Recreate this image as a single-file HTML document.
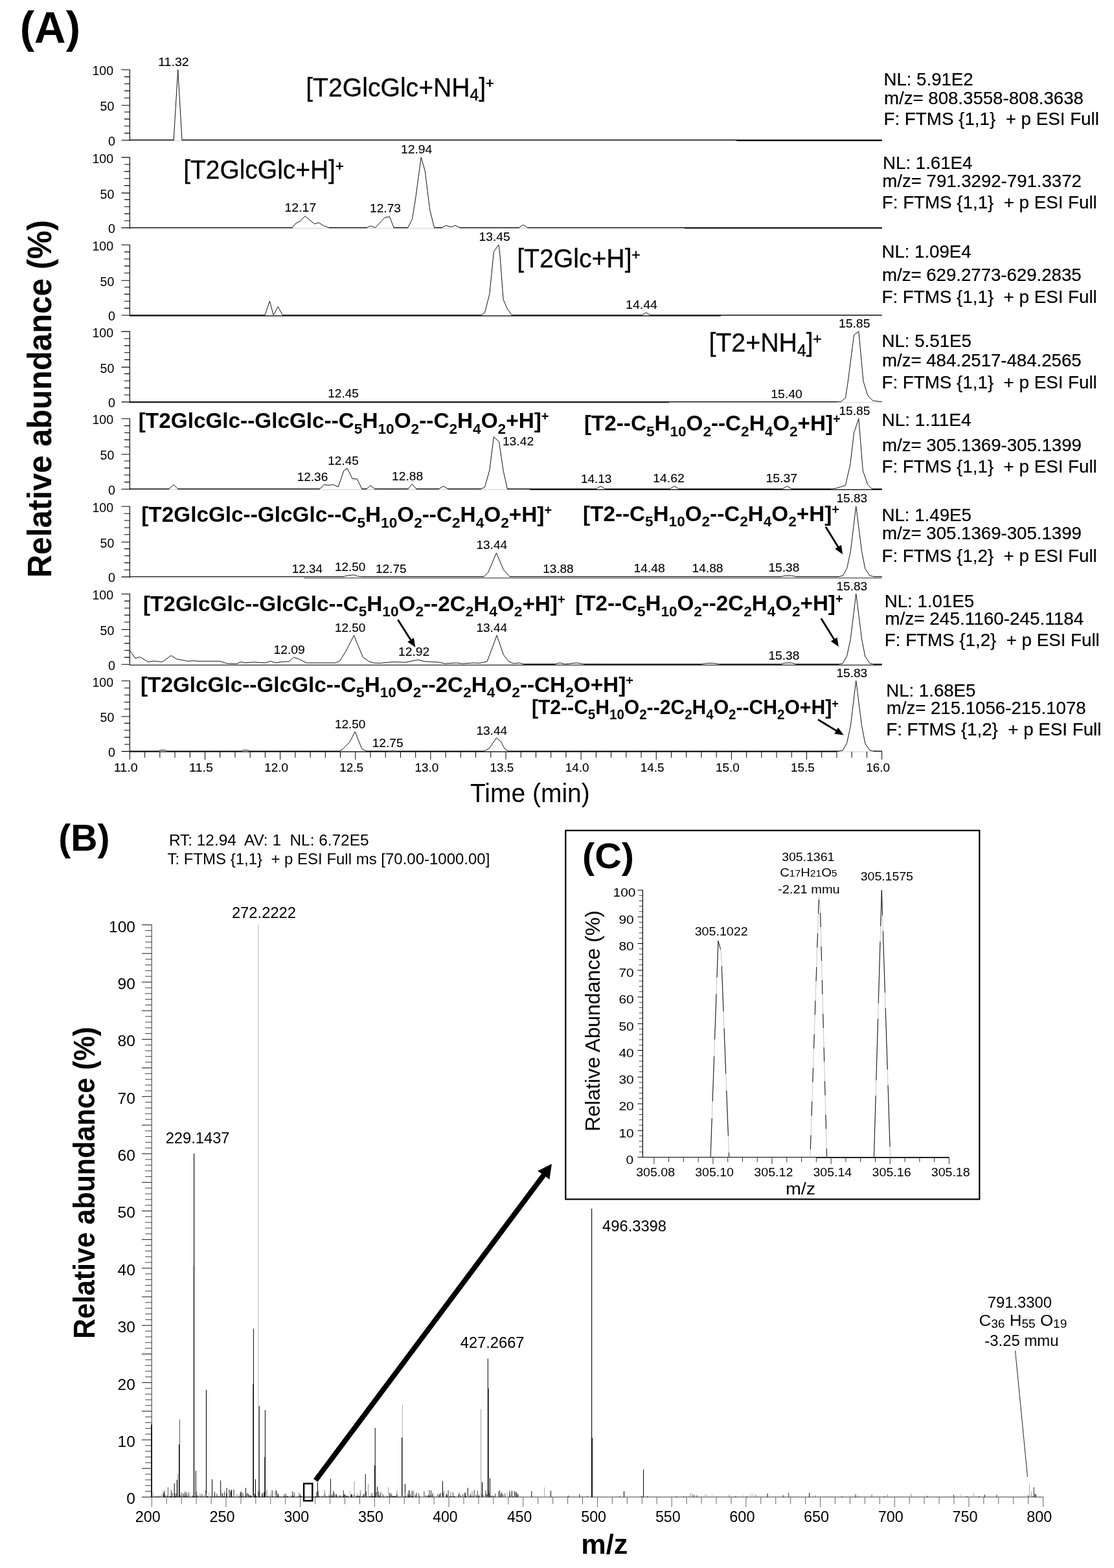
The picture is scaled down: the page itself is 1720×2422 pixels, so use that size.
<!DOCTYPE html>
<html lang="en">
<head>
<meta charset="utf-8">
<title>LC-HRMS chromatograms and spectra</title>
<style>
html,body{margin:0;padding:0;background:#fff;}
body{width:1720px;height:2422px;overflow:hidden;}
svg{display:block;font-family:"Liberation Sans",sans-serif;}
svg text{white-space:pre;}
</style>
</head>
<body>
<svg width="1720" height="2422" viewBox="0 0 1720 2422" xml:space="preserve">
<rect x="0" y="0" width="1720" height="2422" fill="#fff"/>
<text transform="translate(30.73 65.9) scale(0.9888 1)" font-size="68" font-weight="bold">(A)</text>
<text transform="translate(78.8 892.16) rotate(-90) scale(0.9648 1)" font-size="51" font-weight="bold">Relative abundance (%)</text>
<path d="M200.4 107.2L200.4 218.1M187.5 216.5L200.4 216.5M192 205.62L200.4 205.62M192 194.74L200.4 194.74M192 183.86L200.4 183.86M192 172.98L200.4 172.98M187.5 162.7L200.4 162.7M192 151.22L200.4 151.22M192 140.34L200.4 140.34M192 129.46L200.4 129.46M192 118.58L200.4 118.58M187.5 107.7L200.4 107.7M200.4 242.6L200.4 353.5M187.5 351.9L200.4 351.9M192 341.02L200.4 341.02M192 330.14L200.4 330.14M192 319.26L200.4 319.26M192 308.38L200.4 308.38M187.5 298.1L200.4 298.1M192 286.62L200.4 286.62M192 275.74L200.4 275.74M192 264.86L200.4 264.86M192 253.98L200.4 253.98M187.5 243.1L200.4 243.1M200.4 377.7L200.4 488.6M187.5 487L200.4 487M192 476.12L200.4 476.12M192 465.24L200.4 465.24M192 454.36L200.4 454.36M192 443.48L200.4 443.48M187.5 433.2L200.4 433.2M192 421.72L200.4 421.72M192 410.84L200.4 410.84M192 399.96L200.4 399.96M192 389.08L200.4 389.08M187.5 378.2L200.4 378.2M200.4 511.6L200.4 622.5M187.5 620.9L200.4 620.9M192 610.02L200.4 610.02M192 599.14L200.4 599.14M192 588.26L200.4 588.26M192 577.38L200.4 577.38M187.5 567.1L200.4 567.1M192 555.62L200.4 555.62M192 544.74L200.4 544.74M192 533.86L200.4 533.86M192 522.98L200.4 522.98M187.5 512.1L200.4 512.1M200.4 646.2L200.4 757.1M187.5 755.5L200.4 755.5M192 744.62L200.4 744.62M192 733.74L200.4 733.74M192 722.86L200.4 722.86M192 711.98L200.4 711.98M187.5 701.7L200.4 701.7M192 690.22L200.4 690.22M192 679.34L200.4 679.34M192 668.46L200.4 668.46M192 657.58L200.4 657.58M187.5 646.7L200.4 646.7M200.4 781.8L200.4 892.7M187.5 891.1L200.4 891.1M192 880.22L200.4 880.22M192 869.34L200.4 869.34M192 858.46L200.4 858.46M192 847.58L200.4 847.58M187.5 837.3L200.4 837.3M192 825.82L200.4 825.82M192 814.94L200.4 814.94M192 804.06L200.4 804.06M192 793.18L200.4 793.18M187.5 782.3L200.4 782.3M200.4 917L200.4 1027.9M187.5 1026.3L200.4 1026.3M192 1015.42L200.4 1015.42M192 1004.54L200.4 1004.54M192 993.66L200.4 993.66M192 982.78L200.4 982.78M187.5 972.5L200.4 972.5M192 961.02L200.4 961.02M192 950.14L200.4 950.14M192 939.26L200.4 939.26M192 928.38L200.4 928.38M187.5 917.5L200.4 917.5M200.4 1051.3L200.4 1162.2M187.5 1160.6L200.4 1160.6M192 1149.72L200.4 1149.72M192 1138.84L200.4 1138.84M192 1127.96L200.4 1127.96M192 1117.08L200.4 1117.08M187.5 1106.8L200.4 1106.8M192 1095.32L200.4 1095.32M192 1084.44L200.4 1084.44M192 1073.56L200.4 1073.56M192 1062.68L200.4 1062.68M187.5 1051.8L200.4 1051.8" fill="none" stroke="#000" stroke-width="1.1"/>
<text transform="translate(142.4 116.4) scale(1.0000 1)" font-size="19.6">100</text>
<text transform="translate(154.6 171.3) scale(1.0000 1)" font-size="19.6">50</text>
<text transform="translate(166.95 224.8) scale(1.0000 1)" font-size="19.6">0</text>
<line x1="200.4" y1="217.35" x2="1361.6" y2="217.35" stroke="#cdcdcd" stroke-width="1.0"/>
<line x1="1137" y1="217.35" x2="1361.6" y2="217.35" stroke="#000" stroke-width="1.15"/>
<path d="M200.1 216.25L268.51 216.25M280.69 216.25L1361.9 216.25" fill="none" stroke="#0a0a0a" stroke-width="1.2"/>
<polyline points="200.4,216.2 268.2,216.2 274.7,107.5 281.0,216.2 1361.6,216.2" fill="none" stroke="#111" stroke-width="1.0" stroke-linejoin="round"/>
<text transform="translate(142.4 251.8) scale(1.0000 1)" font-size="19.6">100</text>
<text transform="translate(154.6 306.7) scale(1.0000 1)" font-size="19.6">50</text>
<text transform="translate(166.95 360.2) scale(1.0000 1)" font-size="19.6">0</text>
<line x1="200.4" y1="352.75" x2="1361.6" y2="352.75" stroke="#cdcdcd" stroke-width="1.0"/>
<line x1="1057.3" y1="352.75" x2="1361.6" y2="352.75" stroke="#000" stroke-width="1.15"/>
<path d="M200.1 351.65L451.52 351.65M507.82 351.65L566.71 351.65M607.68 351.65L630.11 351.65M670.15 351.65L682.6 351.65M709.87 351.65L801.74 351.65M814.37 351.65L1361.9 351.65" fill="none" stroke="#0a0a0a" stroke-width="1.2"/>
<polyline points="200.4,351.6 451.2,351.6 456.6,345.0 463.1,341.9 471.0,333.9 479.1,340.6 485.6,345.8 492.1,343.9 500.2,349.0 508.1,351.6 566.4,351.6 572.2,349.0 579.6,351.6 594.3,335.8 601.5,334.7 608.0,351.6 629.8,351.6 636.5,338.4 641.7,306.0 650.2,242.8 656.3,264.6 663.7,324.4 670.5,351.6 682.3,351.6 688.8,348.4 696.2,350.6 703.0,348.4 710.2,351.6 801.4,351.6 807.5,347.3 814.7,351.6 1361.6,351.6" fill="none" stroke="#111" stroke-width="1.0" stroke-linejoin="round"/>
<text transform="translate(142.4 386.9) scale(1.0000 1)" font-size="19.6">100</text>
<text transform="translate(154.6 441.8) scale(1.0000 1)" font-size="19.6">50</text>
<text transform="translate(166.95 495.3) scale(1.0000 1)" font-size="19.6">0</text>
<line x1="200.4" y1="487.85" x2="1361.6" y2="487.85" stroke="#cdcdcd" stroke-width="1.0"/>
<line x1="200.4" y1="487.85" x2="1112.6" y2="487.85" stroke="#000" stroke-width="1.15"/>
<path d="M200.1 486.75L409.25 486.75M436.06 486.75L742.98 486.75M789.99 486.75L991.48 486.75M1003.65 486.75L1361.9 486.75" fill="none" stroke="#0a0a0a" stroke-width="1.2"/>
<polyline points="200.4,486.8 409.0,486.8 416.4,465.0 422.2,486.8 429.2,473.7 436.4,486.8 742.7,486.8 748.5,482.9 755.9,454.1 762.4,388.8 769.9,377.9 771.7,391.0 777.1,462.8 783.3,477.0 790.3,486.8 991.2,486.8 997.7,482.9 1004.0,486.8 1361.6,486.8" fill="none" stroke="#111" stroke-width="1.0" stroke-linejoin="round"/>
<text transform="translate(142.4 520.8) scale(1.0000 1)" font-size="19.6">100</text>
<text transform="translate(154.6 575.7) scale(1.0000 1)" font-size="19.6">50</text>
<text transform="translate(166.95 629.2) scale(1.0000 1)" font-size="19.6">0</text>
<line x1="200.4" y1="621.75" x2="1361.6" y2="621.75" stroke="#cdcdcd" stroke-width="1.0"/>
<line x1="200.4" y1="621.75" x2="1032.8" y2="621.75" stroke="#000" stroke-width="1.15"/>
<path d="M200.1 620.65L1292.23 620.65" fill="none" stroke="#0a0a0a" stroke-width="1.2"/>
<polyline points="200.4,620.6 1291.9,620.6 1298.9,620.1 1305.4,614.7 1309.3,589.1 1318.6,517.3 1325.8,511.8 1333.0,589.1 1339.8,610.9 1347.7,619.0 1361.6,620.6" fill="none" stroke="#111" stroke-width="1.0" stroke-linejoin="round"/>
<text transform="translate(142.4 655.4) scale(1.0000 1)" font-size="19.6">100</text>
<text transform="translate(154.6 710.3) scale(1.0000 1)" font-size="19.6">50</text>
<text transform="translate(166.95 763.8) scale(1.0000 1)" font-size="19.6">0</text>
<line x1="200.4" y1="756.35" x2="1361.6" y2="756.35" stroke="#cdcdcd" stroke-width="1.0"/>
<line x1="818" y1="756.35" x2="1361.6" y2="756.35" stroke="#000" stroke-width="1.15"/>
<path d="M200.1 755.25L261.08 755.25M274.42 755.25L494.02 755.25M558.45 755.25L566.48 755.25M578.19 755.25L630.34 755.25M642.52 755.25L677.95 755.25M691.29 755.25L742.98 755.25M783.02 755.25L920.64 755.25M933.98 755.25L1034.44 755.25M1047.78 755.25L1208.62 755.25M1221.96 755.25L1282.94 755.25M1345.97 755.25L1361.9 755.25" fill="none" stroke="#0a0a0a" stroke-width="1.2"/>
<polyline points="200.4,755.2 260.8,755.2 268.2,748.7 274.7,755.2 493.7,755.2 500.5,748.7 508.4,749.3 514.9,748.7 522.3,752.0 530.9,727.0 536.2,723.2 544.1,739.5 551.5,740.0 558.7,755.2 566.2,755.2 572.0,749.8 578.5,755.2 630.0,755.2 636.3,747.6 642.8,755.2 677.7,755.2 684.4,750.9 691.6,755.2 742.7,755.2 748.5,752.5 755.9,725.9 762.4,674.7 770.5,682.4 777.1,727.0 783.3,755.2 920.3,755.2 927.3,750.9 934.3,755.2 1034.1,755.2 1041.1,750.9 1048.1,755.2 1208.3,755.2 1215.3,750.9 1222.3,755.2 1282.6,755.2 1290.8,754.2 1305.4,749.8 1312.8,717.2 1318.6,668.2 1325.8,646.5 1332.3,727.0 1339.8,748.7 1346.3,755.2 1361.6,755.2" fill="none" stroke="#111" stroke-width="1.0" stroke-linejoin="round"/>
<text transform="translate(142.4 791) scale(1.0000 1)" font-size="19.6">100</text>
<text transform="translate(154.6 845.9) scale(1.0000 1)" font-size="19.6">50</text>
<text transform="translate(166.95 899.4) scale(1.0000 1)" font-size="19.6">0</text>
<line x1="200.4" y1="892.8" x2="1361.6" y2="892.8" stroke="#cdcdcd" stroke-width="1.0"/>
<line x1="469" y1="892.8" x2="1361.6" y2="892.8" stroke="#222" stroke-width="0.9"/>
<path d="M200.1 890.65L530.48 890.65M557.75 890.65L747.39 890.65M786.51 890.65L1206.3 890.65M1228.92 890.65L1295.71 890.65M1348.76 890.65L1361.9 890.65" fill="none" stroke="#1a1a1a" stroke-width="0.95"/>
<polyline points="200.4,890.6 530.2,890.6 537.1,889.0 546.4,887.9 552.2,890.1 558.0,890.6 747.1,890.6 753.8,884.1 766.4,854.0 777.3,879.8 786.8,890.6 1206.0,890.6 1213.0,889.3 1222.3,889.3 1229.2,890.6 1295.4,890.6 1301.4,889.3 1307.7,877.6 1313.3,851.5 1321.7,781.9 1330.5,851.5 1335.8,878.7 1343.0,889.3 1349.1,890.6 1361.6,890.6" fill="none" stroke="#111" stroke-width="1.0" stroke-linejoin="round"/>
<text transform="translate(142.4 926.2) scale(1.0000 1)" font-size="19.6">100</text>
<text transform="translate(154.6 981.1) scale(1.0000 1)" font-size="19.6">50</text>
<text transform="translate(166.95 1034.6) scale(1.0000 1)" font-size="19.6">0</text>
<line x1="200.4" y1="1027.2" x2="1361.6" y2="1027.2" stroke="#cdcdcd" stroke-width="1.0"/>
<line x1="200.4" y1="1027.2" x2="1361.6" y2="1027.2" stroke="#000" stroke-width="1.15"/>
<path d="M808.57 1026.05L857.01 1026.05M901.46 1026.05L943.87 1026.05M943.27 1026.05L1083.21 1026.05M1110.48 1026.05L1206.3 1026.05M1228.92 1026.05L1295.71 1026.05M1348.76 1026.05L1361.9 1026.05" fill="none" stroke="#0a0a0a" stroke-width="1.2"/>
<polyline points="200.4,1004.6 209.0,1017.0 215.7,1014.7 229.0,1022.4 237.1,1021.0 250.3,1022.4 264.3,1012.6 272.4,1017.9 286.3,1020.6 291.0,1021.3 297.9,1020.6 304.9,1021.3 338.6,1021.3 351.4,1025.0 365.3,1025.2 372.3,1022.4 378.3,1023.9 391.5,1022.8 409.4,1023.9 417.8,1021.3 425.7,1023.9 433.8,1022.4 446.6,1021.7 453.5,1015.2 461.4,1017.9 473.3,1023.9 518.6,1023.9 524.8,1020.6 534.1,1005.9 546.4,981.4 560.4,1015.2 569.7,1021.7 576.6,1023.9 585.9,1024.4 607.5,1022.4 625.4,1023.1 645.6,1019.2 654.9,1021.7 676.5,1022.8 687.2,1025.0 704.4,1023.9 713.7,1025.0 732.2,1023.9 740.4,1024.4 752.2,1021.7 767.1,981.4 777.3,1011.3 785.6,1021.7 793.3,1025.0 801.2,1023.9 808.9,1025.8 856.7,1025.8 864.6,1023.9 872.5,1025.8 890.2,1023.9 901.8,1025.8 943.6,1026.0 1082.9,1026.0 1092.2,1024.4 1101.5,1024.4 1110.8,1026.0 1206.0,1026.0 1213.0,1023.9 1222.3,1023.9 1229.2,1026.0 1295.4,1026.0 1301.4,1024.7 1307.7,1013.0 1313.3,986.9 1321.7,917.2 1330.5,986.9 1335.8,1014.1 1343.0,1024.7 1349.1,1026.0 1361.6,1026.0" fill="none" stroke="#111" stroke-width="1.0" stroke-linejoin="round"/>
<text transform="translate(142.4 1060.5) scale(1.0000 1)" font-size="19.6">100</text>
<text transform="translate(154.6 1115.4) scale(1.0000 1)" font-size="19.6">50</text>
<text transform="translate(166.95 1168.9) scale(1.0000 1)" font-size="19.6">0</text>
<line x1="200.4" y1="1161.1" x2="1361.6" y2="1161.1" stroke="#cdcdcd" stroke-width="1.0"/>
<line x1="200.4" y1="1161.1" x2="1292" y2="1161.1" stroke="#000" stroke-width="1.15"/>
<path d="M200.1 1160.35L244.83 1160.35M258.16 1160.35L372.56 1160.35M385.89 1160.35L524.21 1160.35M564.95 1160.35L600.15 1160.35M613.49 1160.35L747.63 1160.35M785.34 1160.35L1295.71 1160.35M1348.76 1160.35L1361.9 1160.35" fill="none" stroke="#0a0a0a" stroke-width="1.2"/>
<polyline points="200.4,1160.3 244.5,1160.3 248.0,1158.7 255.0,1158.7 258.5,1160.3 372.3,1160.3 375.7,1158.7 381.5,1158.7 386.2,1160.3 523.9,1160.3 529.3,1157.1 539.9,1146.2 548.1,1130.2 558.7,1156.5 565.2,1160.3 599.9,1160.3 606.8,1159.6 613.8,1160.3 747.3,1160.3 755.5,1156.0 766.4,1139.7 773.1,1145.1 779.6,1157.1 785.6,1160.3 1295.4,1160.3 1301.4,1159.0 1307.7,1147.3 1313.3,1121.2 1321.7,1051.5 1330.5,1121.2 1335.8,1148.4 1343.0,1159.0 1349.1,1160.3 1361.6,1160.3" fill="none" stroke="#111" stroke-width="1.0" stroke-linejoin="round"/>
<text transform="translate(175.87 1192.4) scale(1.0218 1)" font-size="19.2" stroke="#000" stroke-width="0.12">11.0</text>
<text transform="translate(291.98 1192.4) scale(1.0294 1)" font-size="19.2" stroke="#000" stroke-width="0.12">11.5</text>
<text transform="translate(408.17 1192.4) scale(0.9853 1)" font-size="19.2" stroke="#000" stroke-width="0.12">12.0</text>
<text transform="translate(524.29 1192.4) scale(0.9853 1)" font-size="19.2" stroke="#000" stroke-width="0.12">12.5</text>
<text transform="translate(640.41 1192.4) scale(0.9853 1)" font-size="19.2" stroke="#000" stroke-width="0.12">13.0</text>
<text transform="translate(756.53 1192.4) scale(0.9853 1)" font-size="19.2" stroke="#000" stroke-width="0.12">13.5</text>
<text transform="translate(872.65 1192.4) scale(0.9853 1)" font-size="19.2" stroke="#000" stroke-width="0.12">14.0</text>
<text transform="translate(988.77 1192.4) scale(0.9853 1)" font-size="19.2" stroke="#000" stroke-width="0.12">14.5</text>
<text transform="translate(1104.89 1192.4) scale(0.9853 1)" font-size="19.2" stroke="#000" stroke-width="0.12">15.0</text>
<text transform="translate(1221.01 1192.4) scale(0.9853 1)" font-size="19.2" stroke="#000" stroke-width="0.12">15.5</text>
<text transform="translate(1337.13 1192.4) scale(0.9853 1)" font-size="19.2" stroke="#000" stroke-width="0.12">16.0</text>
<path d="M200.4 1161.1L200.4 1173.2M223.62 1161.1L223.62 1170.4M246.85 1161.1L246.85 1170.4M270.07 1161.1L270.07 1170.4M293.3 1161.1L293.3 1170.4M316.52 1161.1L316.52 1173.2M339.74 1161.1L339.74 1170.4M362.97 1161.1L362.97 1170.4M386.19 1161.1L386.19 1170.4M409.42 1161.1L409.42 1170.4M432.64 1161.1L432.64 1173.2M455.86 1161.1L455.86 1170.4M479.09 1161.1L479.09 1170.4M502.31 1161.1L502.31 1170.4M525.54 1161.1L525.54 1170.4M548.76 1161.1L548.76 1173.2M571.98 1161.1L571.98 1170.4M595.21 1161.1L595.21 1170.4M618.43 1161.1L618.43 1170.4M641.66 1161.1L641.66 1170.4M664.88 1161.1L664.88 1173.2M688.1 1161.1L688.1 1170.4M711.33 1161.1L711.33 1170.4M734.55 1161.1L734.55 1170.4M757.78 1161.1L757.78 1170.4M781 1161.1L781 1173.2M804.22 1161.1L804.22 1170.4M827.45 1161.1L827.45 1170.4M850.67 1161.1L850.67 1170.4M873.9 1161.1L873.9 1170.4M897.12 1161.1L897.12 1173.2M920.34 1161.1L920.34 1170.4M943.57 1161.1L943.57 1170.4M966.79 1161.1L966.79 1170.4M990.02 1161.1L990.02 1170.4M1013.24 1161.1L1013.24 1173.2M1036.46 1161.1L1036.46 1170.4M1059.69 1161.1L1059.69 1170.4M1082.91 1161.1L1082.91 1170.4M1106.14 1161.1L1106.14 1170.4M1129.36 1161.1L1129.36 1173.2M1152.58 1161.1L1152.58 1170.4M1175.81 1161.1L1175.81 1170.4M1199.03 1161.1L1199.03 1170.4M1222.26 1161.1L1222.26 1170.4M1245.48 1161.1L1245.48 1173.2M1268.7 1161.1L1268.7 1170.4M1291.93 1161.1L1291.93 1170.4M1315.15 1161.1L1315.15 1170.4M1338.38 1161.1L1338.38 1170.4M1361.6 1161.1L1361.6 1173.2" fill="none" stroke="#000" stroke-width="1.0"/>
<text transform="translate(725.99 1238.7) scale(0.9624 1)" font-size="40.5">Time (min)</text>
<text transform="translate(244.18 101.6) scale(1.0211 1)" font-size="19.2" stroke="#000" stroke-width="0.12">11.32</text>
<text transform="translate(618.9 237) scale(1.0062 1)" font-size="19.2" stroke="#000" stroke-width="0.12">12.94</text>
<text transform="translate(439.48 327.3) scale(1.0151 1)" font-size="19.2" stroke="#000" stroke-width="0.12">12.17</text>
<text transform="translate(571.01 327.8) scale(0.9986 1)" font-size="19.2" stroke="#000" stroke-width="0.12">12.73</text>
<text transform="translate(739.61 371.8) scale(1.0008 1)" font-size="19.2" stroke="#000" stroke-width="0.12">13.45</text>
<text transform="translate(966.08 476.9) scale(1.0171 1)" font-size="19.2" stroke="#000" stroke-width="0.12">14.44</text>
<text transform="translate(1294.89 506.3) scale(1.0117 1)" font-size="19.2" stroke="#000" stroke-width="0.12">15.85</text>
<text transform="translate(506.33 614.4) scale(0.9877 1)" font-size="19.2" stroke="#000" stroke-width="0.12">12.45</text>
<text transform="translate(1190.29 614.6) scale(1.0117 1)" font-size="19.2" stroke="#000" stroke-width="0.12">15.40</text>
<text transform="translate(1295.41 640.8) scale(1.0008 1)" font-size="19.2" stroke="#000" stroke-width="0.12">15.85</text>
<text transform="translate(775.9 688) scale(1.0041 1)" font-size="19.2" stroke="#000" stroke-width="0.12">13.42</text>
<text transform="translate(506.33 717.9) scale(0.9877 1)" font-size="19.2" stroke="#000" stroke-width="0.12">12.45</text>
<text transform="translate(458.73 743) scale(0.9877 1)" font-size="19.2" stroke="#000" stroke-width="0.12">12.36</text>
<text transform="translate(605.11 742.2) scale(1.0008 1)" font-size="19.2" stroke="#000" stroke-width="0.12">12.88</text>
<text transform="translate(896.93 745.7) scale(0.9877 1)" font-size="19.2" stroke="#000" stroke-width="0.12">14.13</text>
<text transform="translate(1008.19 745.4) scale(1.0107 1)" font-size="19.2" stroke="#000" stroke-width="0.12">14.62</text>
<text transform="translate(1182.38 744.9) scale(1.0151 1)" font-size="19.2" stroke="#000" stroke-width="0.12">15.37</text>
<text transform="translate(1291.52 776.1) scale(0.9920 1)" font-size="19.2" stroke="#000" stroke-width="0.12">15.83</text>
<text transform="translate(735.42 848) scale(0.9932 1)" font-size="19.2" stroke="#000" stroke-width="0.12">13.44</text>
<text transform="translate(450.73 884.5) scale(0.9823 1)" font-size="19.2" stroke="#000" stroke-width="0.12">12.34</text>
<text transform="translate(516.93 882.4) scale(0.9877 1)" font-size="19.2" stroke="#000" stroke-width="0.12">12.50</text>
<text transform="translate(580.03 884.5) scale(0.9877 1)" font-size="19.2" stroke="#000" stroke-width="0.12">12.75</text>
<text transform="translate(838.13 884.5) scale(0.9877 1)" font-size="19.2" stroke="#000" stroke-width="0.12">13.88</text>
<text transform="translate(978.5 884.2) scale(1.0051 1)" font-size="19.2" stroke="#000" stroke-width="0.12">14.48</text>
<text transform="translate(1068.51 884.2) scale(1.0008 1)" font-size="19.2" stroke="#000" stroke-width="0.12">14.88</text>
<text transform="translate(1186.41 883.2) scale(0.9986 1)" font-size="19.2" stroke="#000" stroke-width="0.12">15.38</text>
<text transform="translate(1291.52 911.5) scale(0.9920 1)" font-size="19.2" stroke="#000" stroke-width="0.12">15.83</text>
<text transform="translate(516.93 975.8) scale(0.9877 1)" font-size="19.2" stroke="#000" stroke-width="0.12">12.50</text>
<text transform="translate(735.42 975.8) scale(0.9932 1)" font-size="19.2" stroke="#000" stroke-width="0.12">13.44</text>
<text transform="translate(422.39 1010) scale(1.0095 1)" font-size="19.2" stroke="#000" stroke-width="0.12">12.09</text>
<text transform="translate(614.9 1013.4) scale(1.0063 1)" font-size="19.2" stroke="#000" stroke-width="0.12">12.92</text>
<text transform="translate(1186.41 1019.2) scale(0.9986 1)" font-size="19.2" stroke="#000" stroke-width="0.12">15.38</text>
<text transform="translate(1291.52 1046) scale(0.9920 1)" font-size="19.2" stroke="#000" stroke-width="0.12">15.83</text>
<text transform="translate(516.93 1125.3) scale(0.9877 1)" font-size="19.2" stroke="#000" stroke-width="0.12">12.50</text>
<text transform="translate(735.42 1134.5) scale(0.9932 1)" font-size="19.2" stroke="#000" stroke-width="0.12">13.44</text>
<text transform="translate(574.71 1154.4) scale(0.9986 1)" font-size="19.2" stroke="#000" stroke-width="0.12">12.75</text>
<text transform="translate(472.25 148.5) scale(0.9663 1)" font-size="40.5" stroke="#000" stroke-width="0.28">[T2GlcGlc+NH<tspan dy="6.48" font-size="25.52" stroke="#000" stroke-width="0.5">4</tspan><tspan dy="-6.48">]</tspan><tspan dy="-12.15" font-size="22.68" stroke="#000" stroke-width="0.7">+</tspan></text>
<text transform="translate(283.16 275.9) scale(0.9620 1)" font-size="40.5" stroke="#000" stroke-width="0.28">[T2GlcGlc+H]<tspan dy="-12.15" font-size="22.68" stroke="#000" stroke-width="0.7">+</tspan></text>
<text transform="translate(798.15 412.8) scale(0.9674 1)" font-size="40.5" stroke="#000" stroke-width="0.28">[T2Glc+H]<tspan dy="-12.15" font-size="22.68" stroke="#000" stroke-width="0.7">+</tspan></text>
<text transform="translate(1094.44 543.3) scale(0.9704 1)" font-size="40.5" stroke="#000" stroke-width="0.28">[T2+NH<tspan dy="6.48" font-size="25.52" stroke="#000" stroke-width="0.5">4</tspan><tspan dy="-6.48">]</tspan><tspan dy="-12.15" font-size="22.68" stroke="#000" stroke-width="0.7">+</tspan></text>
<text transform="translate(213.77 661.1) scale(0.9856 1)" font-size="33.8" font-weight="bold">[T2GlcGlc--GlcGlc--C<tspan dy="8.62" font-size="22.98">5</tspan><tspan dy="-8.62">H</tspan><tspan dy="8.62" font-size="22.98">10</tspan><tspan dy="-8.62">O</tspan><tspan dy="8.62" font-size="22.98">2</tspan><tspan dy="-8.62">--C</tspan><tspan dy="8.62" font-size="22.98">2</tspan><tspan dy="-8.62">H</tspan><tspan dy="8.62" font-size="22.98">4</tspan><tspan dy="-8.62">O</tspan><tspan dy="8.62" font-size="22.98">2</tspan><tspan dy="-8.62">+H]</tspan><tspan dy="-10.82" font-size="20.28">+</tspan></text>
<text transform="translate(901.97 664.9) scale(0.9829 1)" font-size="33.8" font-weight="bold">[T2--C<tspan dy="8.62" font-size="22.98">5</tspan><tspan dy="-8.62">H</tspan><tspan dy="8.62" font-size="22.98">10</tspan><tspan dy="-8.62">O</tspan><tspan dy="8.62" font-size="22.98">2</tspan><tspan dy="-8.62">--C</tspan><tspan dy="8.62" font-size="22.98">2</tspan><tspan dy="-8.62">H</tspan><tspan dy="8.62" font-size="22.98">4</tspan><tspan dy="-8.62">O</tspan><tspan dy="8.62" font-size="22.98">2</tspan><tspan dy="-8.62">+H]</tspan><tspan dy="-10.82" font-size="20.28">+</tspan></text>
<text transform="translate(218.27 806.2) scale(0.9859 1)" font-size="33.8" font-weight="bold">[T2GlcGlc--GlcGlc--C<tspan dy="8.62" font-size="22.98">5</tspan><tspan dy="-8.62">H</tspan><tspan dy="8.62" font-size="22.98">10</tspan><tspan dy="-8.62">O</tspan><tspan dy="8.62" font-size="22.98">2</tspan><tspan dy="-8.62">--C</tspan><tspan dy="8.62" font-size="22.98">2</tspan><tspan dy="-8.62">H</tspan><tspan dy="8.62" font-size="22.98">4</tspan><tspan dy="-8.62">O</tspan><tspan dy="8.62" font-size="22.98">2</tspan><tspan dy="-8.62">+H]</tspan><tspan dy="-10.82" font-size="20.28">+</tspan></text>
<text transform="translate(900.07 804.5) scale(0.9832 1)" font-size="33.8" font-weight="bold">[T2--C<tspan dy="8.62" font-size="22.98">5</tspan><tspan dy="-8.62">H</tspan><tspan dy="8.62" font-size="22.98">10</tspan><tspan dy="-8.62">O</tspan><tspan dy="8.62" font-size="22.98">2</tspan><tspan dy="-8.62">--C</tspan><tspan dy="8.62" font-size="22.98">2</tspan><tspan dy="-8.62">H</tspan><tspan dy="8.62" font-size="22.98">4</tspan><tspan dy="-8.62">O</tspan><tspan dy="8.62" font-size="22.98">2</tspan><tspan dy="-8.62">+H]</tspan><tspan dy="-10.82" font-size="20.28">+</tspan></text>
<text transform="translate(220.97 943.5) scale(0.9847 1)" font-size="33.8" font-weight="bold">[T2GlcGlc--GlcGlc--C<tspan dy="8.62" font-size="22.98">5</tspan><tspan dy="-8.62">H</tspan><tspan dy="8.62" font-size="22.98">10</tspan><tspan dy="-8.62">O</tspan><tspan dy="8.62" font-size="22.98">2</tspan><tspan dy="-8.62">--2C</tspan><tspan dy="8.62" font-size="22.98">2</tspan><tspan dy="-8.62">H</tspan><tspan dy="8.62" font-size="22.98">4</tspan><tspan dy="-8.62">O</tspan><tspan dy="8.62" font-size="22.98">2</tspan><tspan dy="-8.62">+H]</tspan><tspan dy="-10.82" font-size="20.28">+</tspan></text>
<text transform="translate(888.18 942.9) scale(0.9808 1)" font-size="33.8" font-weight="bold">[T2--C<tspan dy="8.62" font-size="22.98">5</tspan><tspan dy="-8.62">H</tspan><tspan dy="8.62" font-size="22.98">10</tspan><tspan dy="-8.62">O</tspan><tspan dy="8.62" font-size="22.98">2</tspan><tspan dy="-8.62">--2C</tspan><tspan dy="8.62" font-size="22.98">2</tspan><tspan dy="-8.62">H</tspan><tspan dy="8.62" font-size="22.98">4</tspan><tspan dy="-8.62">O</tspan><tspan dy="8.62" font-size="22.98">2</tspan><tspan dy="-8.62">+H]</tspan><tspan dy="-10.82" font-size="20.28">+</tspan></text>
<text transform="translate(216.97 1068.5) scale(0.9855 1)" font-size="33.8" font-weight="bold">[T2GlcGlc--GlcGlc--C<tspan dy="8.62" font-size="22.98">5</tspan><tspan dy="-8.62">H</tspan><tspan dy="8.62" font-size="22.98">10</tspan><tspan dy="-8.62">O</tspan><tspan dy="8.62" font-size="22.98">2</tspan><tspan dy="-8.62">--2C</tspan><tspan dy="8.62" font-size="22.98">2</tspan><tspan dy="-8.62">H</tspan><tspan dy="8.62" font-size="22.98">4</tspan><tspan dy="-8.62">O</tspan><tspan dy="8.62" font-size="22.98">2</tspan><tspan dy="-8.62">--CH</tspan><tspan dy="8.62" font-size="22.98">2</tspan><tspan dy="-8.62">O+H]</tspan><tspan dy="-10.82" font-size="20.28">+</tspan></text>
<text transform="translate(820.93 1103.3) scale(0.9563 1)" font-size="31.5" font-weight="bold">[T2--C<tspan dy="8.03" font-size="21.42">5</tspan><tspan dy="-8.03">H</tspan><tspan dy="8.03" font-size="21.42">10</tspan><tspan dy="-8.03">O</tspan><tspan dy="8.03" font-size="21.42">2</tspan><tspan dy="-8.03">--2C</tspan><tspan dy="8.03" font-size="21.42">2</tspan><tspan dy="-8.03">H</tspan><tspan dy="8.03" font-size="21.42">4</tspan><tspan dy="-8.03">O</tspan><tspan dy="8.03" font-size="21.42">2</tspan><tspan dy="-8.03">--CH</tspan><tspan dy="8.03" font-size="21.42">2</tspan><tspan dy="-8.03">O+H]</tspan><tspan dy="-10.08" font-size="18.9">+</tspan></text>
<line x1="1274.9" y1="813.7" x2="1295.07" y2="846.41" stroke="#000" stroke-width="2.8"/>
<polygon points="1301.1,856.2 1289.12,847.73 1298.91,841.69" fill="#000"/>
<line x1="1267.8" y1="955.2" x2="1288.76" y2="989.12" stroke="#000" stroke-width="2.8"/>
<polygon points="1294.8,998.9 1282.81,990.44 1292.6,984.39" fill="#000"/>
<line x1="614.3" y1="957.3" x2="635.12" y2="990" stroke="#000" stroke-width="2.8"/>
<polygon points="641.3,999.7 629.2,991.4 638.9,985.22" fill="#000"/>
<line x1="1263" y1="1111.5" x2="1292.87" y2="1129.63" stroke="#000" stroke-width="2.8"/>
<polygon points="1302.7,1135.6 1288.18,1133.51 1294.14,1123.68" fill="#000"/>
<text transform="translate(1364.51 132.2) scale(0.9934 1)" font-size="27.8" stroke="#000" stroke-width="0.22">NL: 5.91E2</text>
<text transform="translate(1365.01 160.8) scale(0.9937 1)" font-size="27.8" stroke="#000" stroke-width="0.22">m/z= 808.3558-808.3638</text>
<text transform="translate(1364.5 193.3) scale(0.9990 1)" font-size="27.8" stroke="#000" stroke-width="0.22">F: FTMS {1,1}  + p ESI Full</text>
<text transform="translate(1363.11 260.8) scale(0.9942 1)" font-size="27.8" stroke="#000" stroke-width="0.22">NL: 1.61E4</text>
<text transform="translate(1362.31 289.2) scale(0.9930 1)" font-size="27.8" stroke="#000" stroke-width="0.22">m/z= 791.3292-791.3372</text>
<text transform="translate(1361.8 321.5) scale(0.9974 1)" font-size="27.8" stroke="#000" stroke-width="0.22">F: FTMS {1,1}  + p ESI Full</text>
<text transform="translate(1361.51 398.3) scale(0.9927 1)" font-size="27.8" stroke="#000" stroke-width="0.22">NL: 1.09E4</text>
<text transform="translate(1362.01 434.1) scale(0.9932 1)" font-size="27.8" stroke="#000" stroke-width="0.22">m/z= 629.2773-629.2835</text>
<text transform="translate(1361.5 468.2) scale(0.9984 1)" font-size="27.8" stroke="#000" stroke-width="0.22">F: FTMS {1,1}  + p ESI Full</text>
<text transform="translate(1361.51 536) scale(0.9946 1)" font-size="27.8" stroke="#000" stroke-width="0.22">NL: 5.51E5</text>
<text transform="translate(1362.01 565.6) scale(0.9932 1)" font-size="27.8" stroke="#000" stroke-width="0.22">m/z= 484.2517-484.2565</text>
<text transform="translate(1361.5 599.9) scale(0.9984 1)" font-size="27.8" stroke="#000" stroke-width="0.22">F: FTMS {1,1}  + p ESI Full</text>
<text transform="translate(1361.48 658.1) scale(1.0075 1)" font-size="27.8" stroke="#000" stroke-width="0.22">NL: 1.11E4</text>
<text transform="translate(1362.01 696.5) scale(0.9940 1)" font-size="27.8" stroke="#000" stroke-width="0.22">m/z= 305.1369-305.1399</text>
<text transform="translate(1361.5 729.6) scale(0.9984 1)" font-size="27.8" stroke="#000" stroke-width="0.22">F: FTMS {1,1}  + p ESI Full</text>
<text transform="translate(1361.51 804.5) scale(0.9946 1)" font-size="27.8" stroke="#000" stroke-width="0.22">NL: 1.49E5</text>
<text transform="translate(1362.01 832.9) scale(0.9940 1)" font-size="27.8" stroke="#000" stroke-width="0.22">m/z= 305.1369-305.1399</text>
<text transform="translate(1361.5 867.6) scale(0.9984 1)" font-size="27.8" stroke="#000" stroke-width="0.22">F: FTMS {1,2}  + p ESI Full</text>
<text transform="translate(1365.81 938) scale(0.9938 1)" font-size="27.8" stroke="#000" stroke-width="0.22">NL: 1.01E5</text>
<text transform="translate(1366.29 964.5) scale(1.0045 1)" font-size="27.8" stroke="#000" stroke-width="0.22">m/z= 245.1160-245.1184</text>
<text transform="translate(1365.8 998.4) scale(0.9974 1)" font-size="27.8" stroke="#000" stroke-width="0.22">F: FTMS {1,2}  + p ESI Full</text>
<text transform="translate(1368.21 1075.8) scale(0.9938 1)" font-size="27.8" stroke="#000" stroke-width="0.22">NL: 1.68E5</text>
<text transform="translate(1368.71 1102.8) scale(0.9940 1)" font-size="27.8" stroke="#000" stroke-width="0.22">m/z= 215.1056-215.1078</text>
<text transform="translate(1368.2 1135.9) scale(0.9981 1)" font-size="27.8" stroke="#000" stroke-width="0.22">F: FTMS {1,2}  + p ESI Full</text>
<text transform="translate(90.29 1314.3) scale(0.9934 1)" font-size="57.5" font-weight="bold">(B)</text>
<text transform="translate(260.9 1305.8) scale(0.9955 1)" font-size="24.5">RT: 12.94  AV: 1  NL: 6.72E5</text>
<text transform="translate(258.5 1334.9) scale(0.9792 1)" font-size="24.5">T: FTMS {1,1}  + p ESI Full ms [70.00-1000.00]</text>
<text transform="translate(146 2068.1) rotate(-90) scale(0.9439 1)" font-size="45.5" font-weight="bold">Relative abundance (%)</text>
<text transform="translate(195.25 2323.3) scale(1.0000 1)" font-size="24.6">0</text>
<text transform="translate(181.5 2234.92) scale(1.0000 1)" font-size="24.6">10</text>
<text transform="translate(181.5 2146.54) scale(1.0000 1)" font-size="24.6">20</text>
<text transform="translate(181.5 2058.16) scale(1.0000 1)" font-size="24.6">30</text>
<text transform="translate(181.5 1969.78) scale(1.0000 1)" font-size="24.6">40</text>
<text transform="translate(181.5 1881.4) scale(1.0000 1)" font-size="24.6">50</text>
<text transform="translate(181.5 1793.02) scale(1.0000 1)" font-size="24.6">60</text>
<text transform="translate(181.5 1704.64) scale(1.0000 1)" font-size="24.6">70</text>
<text transform="translate(181.5 1616.26) scale(1.0000 1)" font-size="24.6">80</text>
<text transform="translate(181.5 1527.88) scale(1.0000 1)" font-size="24.6">90</text>
<text transform="translate(168 1439.5) scale(1.0000 1)" font-size="24.6">100</text>
<path d="M218.9 2312.4L234.2 2312.4M218.9 2268.21L234.2 2268.21M218.9 2224.02L234.2 2224.02M218.9 2179.83L234.2 2179.83M218.9 2135.64L234.2 2135.64M218.9 2091.45L234.2 2091.45M218.9 2047.26L234.2 2047.26M218.9 2003.07L234.2 2003.07M218.9 1958.88L234.2 1958.88M218.9 1914.69L234.2 1914.69M218.9 1870.5L234.2 1870.5M218.9 1826.31L234.2 1826.31M218.9 1782.12L234.2 1782.12M218.9 1737.93L234.2 1737.93M218.9 1693.74L234.2 1693.74M218.9 1649.55L234.2 1649.55M218.9 1605.36L234.2 1605.36M218.9 1561.17L234.2 1561.17M218.9 1516.98L234.2 1516.98M218.9 1472.79L234.2 1472.79M218.9 1428.6L234.2 1428.6" fill="none" stroke="#111" stroke-width="1.0"/>
<path d="M224.2 2303.56L234.2 2303.56M224.2 2294.72L234.2 2294.72M224.2 2285.89L234.2 2285.89M224.2 2277.05L234.2 2277.05M224.2 2259.37L234.2 2259.37M224.2 2250.53L234.2 2250.53M224.2 2241.7L234.2 2241.7M224.2 2232.86L234.2 2232.86M224.2 2215.18L234.2 2215.18M224.2 2206.34L234.2 2206.34M224.2 2197.51L234.2 2197.51M224.2 2188.67L234.2 2188.67M224.2 2170.99L234.2 2170.99M224.2 2162.15L234.2 2162.15M224.2 2153.32L234.2 2153.32M224.2 2144.48L234.2 2144.48M224.2 2126.8L234.2 2126.8M224.2 2117.96L234.2 2117.96M224.2 2109.13L234.2 2109.13M224.2 2100.29L234.2 2100.29M224.2 2082.61L234.2 2082.61M224.2 2073.77L234.2 2073.77M224.2 2064.94L234.2 2064.94M224.2 2056.1L234.2 2056.1M224.2 2038.42L234.2 2038.42M224.2 2029.58L234.2 2029.58M224.2 2020.75L234.2 2020.75M224.2 2011.91L234.2 2011.91M224.2 1994.23L234.2 1994.23M224.2 1985.39L234.2 1985.39M224.2 1976.56L234.2 1976.56M224.2 1967.72L234.2 1967.72M224.2 1950.04L234.2 1950.04M224.2 1941.2L234.2 1941.2M224.2 1932.37L234.2 1932.37M224.2 1923.53L234.2 1923.53M224.2 1905.85L234.2 1905.85M224.2 1897.01L234.2 1897.01M224.2 1888.18L234.2 1888.18M224.2 1879.34L234.2 1879.34M224.2 1861.66L234.2 1861.66M224.2 1852.82L234.2 1852.82M224.2 1843.99L234.2 1843.99M224.2 1835.15L234.2 1835.15M224.2 1817.47L234.2 1817.47M224.2 1808.63L234.2 1808.63M224.2 1799.8L234.2 1799.8M224.2 1790.96L234.2 1790.96M224.2 1773.28L234.2 1773.28M224.2 1764.44L234.2 1764.44M224.2 1755.61L234.2 1755.61M224.2 1746.77L234.2 1746.77M224.2 1729.09L234.2 1729.09M224.2 1720.25L234.2 1720.25M224.2 1711.42L234.2 1711.42M224.2 1702.58L234.2 1702.58M224.2 1684.9L234.2 1684.9M224.2 1676.06L234.2 1676.06M224.2 1667.23L234.2 1667.23M224.2 1658.39L234.2 1658.39M224.2 1640.71L234.2 1640.71M224.2 1631.87L234.2 1631.87M224.2 1623.04L234.2 1623.04M224.2 1614.2L234.2 1614.2M224.2 1596.52L234.2 1596.52M224.2 1587.68L234.2 1587.68M224.2 1578.85L234.2 1578.85M224.2 1570.01L234.2 1570.01M224.2 1552.33L234.2 1552.33M224.2 1543.49L234.2 1543.49M224.2 1534.66L234.2 1534.66M224.2 1525.82L234.2 1525.82M224.2 1508.14L234.2 1508.14M224.2 1499.3L234.2 1499.3M224.2 1490.47L234.2 1490.47M224.2 1481.63L234.2 1481.63M224.2 1463.95L234.2 1463.95M224.2 1455.11L234.2 1455.11M224.2 1446.28L234.2 1446.28M224.2 1437.44L234.2 1437.44" fill="none" stroke="#2a2a2a" stroke-width="0.9"/>
<line x1="234.2" y1="1428.1" x2="234.2" y2="2312.9" stroke="#333" stroke-width="1.0"/>
<line x1="234.3" y1="2312.4" x2="640" y2="2312.4" stroke="#222" stroke-width="1.3"/>
<line x1="640" y1="2312.4" x2="1611.1" y2="2312.4" stroke="#8a8a8a" stroke-width="1.7"/>
<text transform="translate(208.8 2350.7) scale(0.9526 1)" font-size="24.6">200</text>
<text transform="translate(323.49 2350.7) scale(0.9526 1)" font-size="24.6">250</text>
<text transform="translate(438.43 2350.7) scale(0.9465 1)" font-size="24.6">300</text>
<text transform="translate(553.12 2350.7) scale(0.9465 1)" font-size="24.6">350</text>
<text transform="translate(668.29 2350.7) scale(0.9345 1)" font-size="24.6">400</text>
<text transform="translate(782.98 2350.7) scale(0.9345 1)" font-size="24.6">450</text>
<text transform="translate(897.2 2350.7) scale(0.9465 1)" font-size="24.6">500</text>
<text transform="translate(1011.89 2350.7) scale(0.9465 1)" font-size="24.6">550</text>
<text transform="translate(1126.34 2350.7) scale(0.9526 1)" font-size="24.6">600</text>
<text transform="translate(1241.03 2350.7) scale(0.9526 1)" font-size="24.6">650</text>
<text transform="translate(1355.72 2350.7) scale(0.9526 1)" font-size="24.6">700</text>
<text transform="translate(1470.41 2350.7) scale(0.9526 1)" font-size="24.6">750</text>
<text transform="translate(1585.35 2350.7) scale(0.9465 1)" font-size="24.6">800</text>
<path d="M234.3 2312.4L234.3 2327.9M257.24 2312.4L257.24 2323.4M280.18 2312.4L280.18 2323.4M303.12 2312.4L303.12 2323.4M326.05 2312.4L326.05 2323.4M348.99 2312.4L348.99 2327.9M371.93 2312.4L371.93 2323.4M394.87 2312.4L394.87 2323.4M417.81 2312.4L417.81 2323.4M440.75 2312.4L440.75 2323.4M463.68 2312.4L463.68 2327.9M486.62 2312.4L486.62 2323.4M509.56 2312.4L509.56 2323.4M532.5 2312.4L532.5 2323.4M555.44 2312.4L555.44 2323.4M578.38 2312.4L578.38 2327.9M601.31 2312.4L601.31 2323.4M624.25 2312.4L624.25 2323.4M647.19 2312.4L647.19 2323.4M670.13 2312.4L670.13 2323.4M693.07 2312.4L693.07 2327.9M716 2312.4L716 2323.4M738.94 2312.4L738.94 2323.4M761.88 2312.4L761.88 2323.4M784.82 2312.4L784.82 2323.4M807.76 2312.4L807.76 2327.9M830.7 2312.4L830.7 2323.4M853.63 2312.4L853.63 2323.4M876.57 2312.4L876.57 2323.4M899.51 2312.4L899.51 2323.4M922.45 2312.4L922.45 2327.9M945.39 2312.4L945.39 2323.4M968.33 2312.4L968.33 2323.4M991.27 2312.4L991.27 2323.4M1014.2 2312.4L1014.2 2323.4M1037.14 2312.4L1037.14 2327.9M1060.08 2312.4L1060.08 2323.4M1083.02 2312.4L1083.02 2323.4M1105.96 2312.4L1105.96 2323.4M1128.89 2312.4L1128.89 2323.4M1151.83 2312.4L1151.83 2327.9M1174.77 2312.4L1174.77 2323.4M1197.71 2312.4L1197.71 2323.4M1220.65 2312.4L1220.65 2323.4M1243.59 2312.4L1243.59 2323.4M1266.52 2312.4L1266.52 2327.9M1289.46 2312.4L1289.46 2323.4M1312.4 2312.4L1312.4 2323.4M1335.34 2312.4L1335.34 2323.4M1358.28 2312.4L1358.28 2323.4M1381.22 2312.4L1381.22 2327.9M1404.15 2312.4L1404.15 2323.4M1427.09 2312.4L1427.09 2323.4M1450.03 2312.4L1450.03 2323.4M1472.97 2312.4L1472.97 2323.4M1495.91 2312.4L1495.91 2327.9M1518.85 2312.4L1518.85 2323.4M1541.78 2312.4L1541.78 2323.4M1564.72 2312.4L1564.72 2323.4M1587.66 2312.4L1587.66 2323.4M1610.6 2312.4L1610.6 2327.9" fill="none" stroke="#555" stroke-width="0.9"/>
<text transform="translate(897.34 2399.6) scale(0.9995 1)" font-size="43.2" font-weight="bold">m/z</text>
<line x1="299.6" y1="2312.4" x2="299.6" y2="1782.12" stroke="#000" stroke-width="1.1"/>
<line x1="299.3" y1="2312.4" x2="299.3" y2="1954.46" stroke="#000" stroke-width="1.0"/>
<line x1="398.7" y1="2312.4" x2="398.7" y2="1428.6" stroke="#c6c6c6" stroke-width="1.2"/>
<line x1="400.2" y1="2312.4" x2="400.2" y2="2171.88" stroke="#000" stroke-width="1.1"/>
<line x1="913.6" y1="2312.4" x2="913.6" y2="1866.96" stroke="#000" stroke-width="1.1"/>
<line x1="914" y1="2312.4" x2="914" y2="2221.37" stroke="#000" stroke-width="1.8"/>
<line x1="753.3" y1="2312.4" x2="753.3" y2="2098.52" stroke="#000" stroke-width="1.0"/>
<line x1="754" y1="2312.4" x2="754" y2="2144.48" stroke="#000" stroke-width="1.3"/>
<line x1="277.4" y1="2312.4" x2="277.4" y2="2192.2" stroke="#555" stroke-width="1.0"/>
<line x1="276.6" y1="2312.4" x2="276.6" y2="2231.09" stroke="#000" stroke-width="1.1"/>
<line x1="274.5" y1="2312.4" x2="274.5" y2="2277.05" stroke="#888" stroke-width="1.0"/>
<line x1="273.2" y1="2312.4" x2="273.2" y2="2285.89" stroke="#000" stroke-width="1.0"/>
<line x1="269.2" y1="2312.4" x2="269.2" y2="2291.19" stroke="#000" stroke-width="1.0"/>
<line x1="259.4" y1="2312.4" x2="259.4" y2="2297.38" stroke="#555" stroke-width="1.0"/>
<line x1="302.3" y1="2312.4" x2="302.3" y2="2271.75" stroke="#000" stroke-width="1.0"/>
<line x1="318.5" y1="2312.4" x2="318.5" y2="2147.13" stroke="#000" stroke-width="1.1"/>
<line x1="327.5" y1="2312.4" x2="327.5" y2="2285" stroke="#000" stroke-width="1.0"/>
<line x1="340.7" y1="2312.4" x2="340.7" y2="2286.77" stroke="#000" stroke-width="1.0"/>
<line x1="350" y1="2312.4" x2="350" y2="2298.26" stroke="#000" stroke-width="1.0"/>
<line x1="354" y1="2312.4" x2="354" y2="2300.91" stroke="#000" stroke-width="1.0"/>
<line x1="357.4" y1="2312.4" x2="357.4" y2="2300.91" stroke="#000" stroke-width="1.0"/>
<line x1="361" y1="2312.4" x2="361" y2="2300.91" stroke="#000" stroke-width="1.0"/>
<line x1="379.4" y1="2312.4" x2="379.4" y2="2298.26" stroke="#000" stroke-width="1.0"/>
<line x1="391.4" y1="2312.4" x2="391.4" y2="2052.56" stroke="#000" stroke-width="1.0"/>
<line x1="391" y1="2312.4" x2="391" y2="2138.29" stroke="#000" stroke-width="1.2"/>
<line x1="394.5" y1="2312.4" x2="394.5" y2="2285" stroke="#000" stroke-width="1.0"/>
<line x1="409.4" y1="2312.4" x2="409.4" y2="2178.06" stroke="#000" stroke-width="1.0"/>
<line x1="409" y1="2312.4" x2="409" y2="2250.53" stroke="#000" stroke-width="1.3"/>
<line x1="412.2" y1="2312.4" x2="412.2" y2="2300.91" stroke="#888" stroke-width="1.0"/>
<line x1="490.3" y1="2312.4" x2="490.3" y2="2289.42" stroke="#000" stroke-width="1.0"/>
<line x1="510.4" y1="2312.4" x2="510.4" y2="2284.12" stroke="#000" stroke-width="1.0"/>
<line x1="547.2" y1="2312.4" x2="547.2" y2="2287.65" stroke="#999" stroke-width="1.0"/>
<line x1="564.2" y1="2312.4" x2="564.2" y2="2277.05" stroke="#000" stroke-width="1.0"/>
<line x1="568.5" y1="2312.4" x2="568.5" y2="2292.07" stroke="#999" stroke-width="1.0"/>
<line x1="579.2" y1="2312.4" x2="579.2" y2="2205.46" stroke="#000" stroke-width="1.0"/>
<line x1="578.7" y1="2312.4" x2="578.7" y2="2263.79" stroke="#000" stroke-width="1.3"/>
<line x1="582.4" y1="2312.4" x2="582.4" y2="2296.49" stroke="#000" stroke-width="1.0"/>
<line x1="599.7" y1="2312.4" x2="599.7" y2="2297.38" stroke="#999" stroke-width="1.0"/>
<line x1="621.4" y1="2312.4" x2="621.4" y2="2169.22" stroke="#aaa" stroke-width="1.0"/>
<line x1="620.6" y1="2312.4" x2="620.6" y2="2220.48" stroke="#000" stroke-width="1.1"/>
<line x1="625.4" y1="2312.4" x2="625.4" y2="2292.07" stroke="#000" stroke-width="1.0"/>
<line x1="683.4" y1="2312.4" x2="683.4" y2="2287.65" stroke="#000" stroke-width="1.0"/>
<line x1="722.3" y1="2312.4" x2="722.3" y2="2298.26" stroke="#000" stroke-width="1.0"/>
<line x1="742.7" y1="2312.4" x2="742.7" y2="2176.29" stroke="#999" stroke-width="1.0"/>
<line x1="744.5" y1="2312.4" x2="744.5" y2="2289.42" stroke="#000" stroke-width="1.2"/>
<line x1="756.5" y1="2312.4" x2="756.5" y2="2283.23" stroke="#000" stroke-width="1.0"/>
<line x1="840.6" y1="2312.4" x2="840.6" y2="2297.38" stroke="#aaa" stroke-width="1.0"/>
<line x1="850.4" y1="2312.4" x2="850.4" y2="2302.68" stroke="#000" stroke-width="1.0"/>
<line x1="786.3" y1="2312.4" x2="786.3" y2="2300.91" stroke="#aaa" stroke-width="1.0"/>
<line x1="790.4" y1="2312.4" x2="790.4" y2="2302.68" stroke="#000" stroke-width="1.0"/>
<line x1="820.8" y1="2312.4" x2="820.8" y2="2303.56" stroke="#000" stroke-width="1.0"/>
<line x1="993.5" y1="2312.4" x2="993.5" y2="2269.98" stroke="#000" stroke-width="1.0"/>
<line x1="963.5" y1="2312.4" x2="963.5" y2="2303.56" stroke="#000" stroke-width="1.0"/>
<line x1="1589.4" y1="2312.4" x2="1589.4" y2="2291.19" stroke="#aaa" stroke-width="1.0"/>
<line x1="1596.3" y1="2312.4" x2="1596.3" y2="2297.38" stroke="#222" stroke-width="1.0"/>
<line x1="1592.6" y1="2312.4" x2="1592.6" y2="2303.56" stroke="#aaa" stroke-width="1.0"/>
<line x1="1599.2" y1="2312.4" x2="1599.2" y2="2307.98" stroke="#000" stroke-width="1.0"/>
<line x1="1406" y1="2312.4" x2="1406" y2="2306.21" stroke="#bbb" stroke-width="1.2"/>
<line x1="1503.4" y1="2312.4" x2="1503.4" y2="2306.21" stroke="#aaa" stroke-width="1.0"/>
<line x1="1520.4" y1="2312.4" x2="1520.4" y2="2308.86" stroke="#000" stroke-width="1.0"/>
<line x1="1249.6" y1="2312.4" x2="1249.6" y2="2306.21" stroke="#000" stroke-width="1.0"/>
<line x1="1185" y1="2312.4" x2="1185" y2="2307.1" stroke="#000" stroke-width="1.0"/>
<line x1="234" y1="2312.4" x2="234" y2="2200.16" stroke="#000" stroke-width="1.6"/>
<path d="M490.8 2312.4v-7.4M683.2 2312.4v-1.3M316.0 2312.4v-2.8M604.8 2312.4v-3.6M587.4 2312.4v-6.9M269.6 2312.4v-1.4M574.2 2312.4v-5.9M711.1 2312.4v-2.7M797.6 2312.4v-7.1M413.8 2312.4v-1.4M252.8 2312.4v-3.1M273.7 2312.4v-1.3M356.4 2312.4v-9.1M555.4 2312.4v-1.4M426.0 2312.4v-1.6M779.7 2312.4v-5.6M311.9 2312.4v-4.8M269.8 2312.4v-6.2M343.5 2312.4v-5.1M452.4 2312.4v-1.9M407.5 2312.4v-8.1M598.0 2312.4v-1.3M421.5 2312.4v-1.6M277.9 2312.4v-1.4M339.1 2312.4v-1.4M697.2 2312.4v-1.5M576.4 2312.4v-2.1M297.5 2312.4v-2.6M370.5 2312.4v-4.7M334.9 2312.4v-5.0M582.5 2312.4v-1.5M487.4 2312.4v-1.3M395.0 2312.4v-2.8M565.6 2312.4v-1.4M756.9 2312.4v-2.4M631.3 2312.4v-10.0M573.5 2312.4v-1.3M648.0 2312.4v-1.6M278.4 2312.4v-2.9M743.7 2312.4v-5.2M683.4 2312.4v-8.8M283.9 2312.4v-2.4M727.3 2312.4v-2.0M609.5 2312.4v-1.9M579.4 2312.4v-1.3M796.2 2312.4v-7.9M283.3 2312.4v-5.4M411.0 2312.4v-1.3M380.3 2312.4v-1.3M689.3 2312.4v-5.5M755.3 2312.4v-1.4M516.0 2312.4v-7.0M637.1 2312.4v-9.7M451.8 2312.4v-2.7M491.2 2312.4v-1.3M392.9 2312.4v-3.5M343.1 2312.4v-5.8M369.9 2312.4v-1.4M791.0 2312.4v-1.3M591.3 2312.4v-4.1M776.6 2312.4v-4.4M700.6 2312.4v-1.5M661.8 2312.4v-2.8M337.0 2312.4v-1.5M714.7 2312.4v-4.7M309.3 2312.4v-2.2M420.1 2312.4v-10.5M643.2 2312.4v-6.7M356.3 2312.4v-8.4M787.2 2312.4v-2.8M383.7 2312.4v-4.9M428.9 2312.4v-2.1M510.9 2312.4v-1.3M255.8 2312.4v-2.8M562.5 2312.4v-4.5M531.7 2312.4v-3.2M304.8 2312.4v-1.3M387.8 2312.4v-2.4M584.5 2312.4v-9.0M632.0 2312.4v-10.4M345.5 2312.4v-1.4M305.2 2312.4v-2.6M581.0 2312.4v-7.4M752.0 2312.4v-3.7M745.1 2312.4v-1.6M738.3 2312.4v-1.4M736.6 2312.4v-1.3M542.4 2312.4v-4.7M463.2 2312.4v-4.5M290.2 2312.4v-3.1M750.0 2312.4v-10.2M633.5 2312.4v-3.8M519.6 2312.4v-4.5M688.8 2312.4v-2.4M746.5 2312.4v-2.4M340.1 2312.4v-1.4M794.5 2312.4v-9.1M354.5 2312.4v-1.8M438.8 2312.4v-1.8M577.1 2312.4v-1.3M790.2 2312.4v-6.4M393.6 2312.4v-1.3M695.5 2312.4v-2.0M667.6 2312.4v-2.0M264.0 2312.4v-1.5M799.9 2312.4v-3.9M665.6 2312.4v-10.5M300.7 2312.4v-1.3M380.7 2312.4v-2.0M665.4 2312.4v-4.0M291.5 2312.4v-1.5M533.1 2312.4v-3.4M535.2 2312.4v-2.4M552.2 2312.4v-1.5M264.3 2312.4v-10.7M641.6 2312.4v-1.5M317.4 2312.4v-9.9M302.5 2312.4v-7.5M441.3 2312.4v-5.3M773.3 2312.4v-5.2M507.3 2312.4v-2.6M678.4 2312.4v-3.7M630.3 2312.4v-1.4M660.9 2312.4v-1.4M519.2 2312.4v-4.0M731.6 2312.4v-1.3M241.3 2312.4v-1.5M393.0 2312.4v-5.5M546.6 2312.4v-3.8M509.0 2312.4v-1.8M429.8 2312.4v-5.3M381.6 2312.4v-6.5M419.5 2312.4v-2.9M444.3 2312.4v-1.3M404.6 2312.4v-5.9M282.1 2312.4v-1.6M395.6 2312.4v-1.4M606.7 2312.4v-1.7M754.1 2312.4v-9.4M688.9 2312.4v-1.6M376.0 2312.4v-1.8M443.7 2312.4v-1.9M707.7 2312.4v-3.1M286.6 2312.4v-2.2M693.9 2312.4v-1.4M542.9 2312.4v-3.1M603.3 2312.4v-6.4M283.4 2312.4v-1.3M743.1 2312.4v-1.3M426.7 2312.4v-2.3M426.5 2312.4v-10.2M514.4 2312.4v-2.8M663.0 2312.4v-10.6M717.4 2312.4v-6.4M737.2 2312.4v-9.9M531.5 2312.4v-4.8M400.7 2312.4v-10.2M501.9 2312.4v-5.1M601.5 2312.4v-5.9M750.5 2312.4v-5.5M565.4 2312.4v-8.6M412.3 2312.4v-1.4M571.5 2312.4v-1.4M740.5 2312.4v-2.0M671.2 2312.4v-1.3M461.3 2312.4v-1.4M684.2 2312.4v-5.8M606.9 2312.4v-1.5M729.4 2312.4v-2.0M386.3 2312.4v-2.8M558.5 2312.4v-1.4M699.3 2312.4v-7.2M719.5 2312.4v-1.6M514.7 2312.4v-9.6M408.4 2312.4v-2.3M438.9 2312.4v-4.5M612.6 2312.4v-4.3M637.4 2312.4v-2.4M554.2 2312.4v-2.3M718.8 2312.4v-7.2M764.7 2312.4v-5.4M661.8 2312.4v-3.0M380.6 2312.4v-1.4M702.4 2312.4v-1.3M586.7 2312.4v-1.3M570.3 2312.4v-1.3M758.8 2312.4v-1.4M244.7 2312.4v-2.0M534.9 2312.4v-1.5M429.0 2312.4v-4.0M550.3 2312.4v-1.4M745.3 2312.4v-2.9M799.1 2312.4v-4.8M556.0 2312.4v-1.3M561.1 2312.4v-4.6M287.8 2312.4v-7.8M497.2 2312.4v-1.3M552.3 2312.4v-3.0M331.1 2312.4v-5.4M575.2 2312.4v-1.3M398.8 2312.4v-8.3M663.7 2312.4v-1.8M340.7 2312.4v-2.9M492.3 2312.4v-2.0M583.0 2312.4v-3.9M325.4 2312.4v-2.0M464.8 2312.4v-1.7M384.7 2312.4v-3.1M266.2 2312.4v-6.0M463.4 2312.4v-2.5M701.4 2312.4v-1.3M529.7 2312.4v-2.0M372.7 2312.4v-7.8M504.3 2312.4v-1.3M543.4 2312.4v-4.1M732.2 2312.4v-11.0M724.7 2312.4v-2.1M560.8 2312.4v-2.2M373.6 2312.4v-1.6M695.9 2312.4v-1.9M626.4 2312.4v-1.4M253.6 2312.4v-8.4M731.6 2312.4v-1.4M346.3 2312.4v-7.0M349.9 2312.4v-3.8M771.5 2312.4v-10.4M408.6 2312.4v-6.6M726.4 2312.4v-4.9M331.5 2312.4v-7.5M636.7 2312.4v-1.4M642.2 2312.4v-2.6M734.8 2312.4v-3.3M787.1 2312.4v-8.3M612.2 2312.4v-1.5M277.6 2312.4v-8.6M574.2 2312.4v-1.5M556.7 2312.4v-1.4M252.3 2312.4v-6.1M752.9 2312.4v-3.3M760.1 2312.4v-2.5M272.1 2312.4v-5.9M416.9 2312.4v-2.4M613.0 2312.4v-2.9M679.6 2312.4v-6.1M576.3 2312.4v-1.5M488.9 2312.4v-8.0M690.7 2312.4v-2.6M719.2 2312.4v-1.3M318.5 2312.4v-1.6M285.9 2312.4v-6.7M270.5 2312.4v-2.0M630.0 2312.4v-4.7M530.2 2312.4v-10.6M371.7 2312.4v-8.2M718.4 2312.4v-2.0M761.9 2312.4v-1.8M769.8 2312.4v-9.0M258.4 2312.4v-2.0M676.7 2312.4v-1.4M375.0 2312.4v-6.2M512.5 2312.4v-3.7M262.6 2312.4v-1.5M586.2 2312.4v-2.7M524.8 2312.4v-3.1M387.5 2312.4v-1.8M646.6 2312.4v-5.9M667.8 2312.4v-5.0M370.4 2312.4v-1.3M525.8 2312.4v-1.3M319.0 2312.4v-1.4M537.7 2312.4v-2.2M454.0 2312.4v-7.6M357.7 2312.4v-1.3M657.4 2312.4v-2.4M692.1 2312.4v-10.4M608.5 2312.4v-1.3M550.8 2312.4v-1.8M774.7 2312.4v-7.7M349.9 2312.4v-5.7M611.2 2312.4v-1.5M654.9 2312.4v-8.6M405.2 2312.4v-4.9M276.8 2312.4v-1.3M739.0 2312.4v-3.1M452.8 2312.4v-1.7M253.5 2312.4v-4.8M542.2 2312.4v-3.6M451.4 2312.4v-8.6M689.4 2312.4v-4.4M410.1 2312.4v-1.8M320.5 2312.4v-1.4M280.6 2312.4v-6.8M1055.4 2312.4v-1.3M1153.2 2312.4v-1.3M1044.5 2312.4v-1.5M1538.9 2312.4v-3.5M1431.4 2312.4v-1.9M1365.3 2312.4v-1.4M1587.7 2312.4v-2.7M1321.0 2312.4v-4.4M1076.0 2312.4v-2.8M1209.2 2312.4v-3.1M1598.0 2312.4v-4.8M1071.7 2312.4v-3.4M1493.1 2312.4v-1.4M1511.6 2312.4v-1.8M1217.7 2312.4v-6.6M1593.8 2312.4v-1.7M999.6 2312.4v-1.5M894.8 2312.4v-4.7M906.6 2312.4v-1.9M1472.5 2312.4v-3.7M877.4 2312.4v-2.3M1299.7 2312.4v-1.4M956.8 2312.4v-1.5M991.2 2312.4v-1.3M1135.9 2312.4v-1.4" stroke="#000" stroke-width="0.8" fill="none"/>
<path d="M491.1 2312.4v-3.0M571.8 2312.4v-1.9M517.9 2312.4v-4.2M461.8 2312.4v-7.2M501.1 2312.4v-10.5M491.6 2312.4v-9.9M705.5 2312.4v-1.4M346.9 2312.4v-9.7M658.4 2312.4v-1.3M288.0 2312.4v-1.4M365.8 2312.4v-4.6M675.9 2312.4v-4.1M331.7 2312.4v-8.5M517.0 2312.4v-1.5M611.6 2312.4v-1.4M699.5 2312.4v-1.3M391.2 2312.4v-1.4M246.8 2312.4v-1.4M582.5 2312.4v-5.5M285.2 2312.4v-9.2M685.4 2312.4v-9.5M432.6 2312.4v-1.3M709.7 2312.4v-4.5M300.5 2312.4v-1.3M273.2 2312.4v-2.8M755.3 2312.4v-6.3M427.6 2312.4v-8.4M532.1 2312.4v-1.3M640.8 2312.4v-4.7M310.8 2312.4v-1.3M290.7 2312.4v-6.9M563.0 2312.4v-1.3M279.8 2312.4v-1.3M499.4 2312.4v-2.7M712.2 2312.4v-1.4M418.6 2312.4v-1.3M732.2 2312.4v-4.6M275.8 2312.4v-1.7M556.3 2312.4v-10.9M613.0 2312.4v-9.8M760.6 2312.4v-1.4M580.7 2312.4v-1.3M260.1 2312.4v-1.4M265.8 2312.4v-1.6M277.5 2312.4v-8.5M261.6 2312.4v-1.3M533.8 2312.4v-1.3M383.8 2312.4v-3.2M708.6 2312.4v-5.7M556.3 2312.4v-6.6M291.0 2312.4v-6.6M635.4 2312.4v-8.8M318.5 2312.4v-5.3M621.8 2312.4v-1.6M358.6 2312.4v-1.5M506.4 2312.4v-1.5M729.0 2312.4v-8.5M290.8 2312.4v-2.4M753.1 2312.4v-1.3M604.8 2312.4v-1.3M744.5 2312.4v-1.4M501.0 2312.4v-3.9M337.4 2312.4v-2.0M254.3 2312.4v-10.7M465.5 2312.4v-1.3M668.5 2312.4v-6.7M674.0 2312.4v-1.4M409.5 2312.4v-4.3M751.0 2312.4v-3.1M660.0 2312.4v-2.4M708.8 2312.4v-7.4M730.7 2312.4v-1.5M333.0 2312.4v-2.2M418.9 2312.4v-1.4M424.9 2312.4v-9.8M793.1 2312.4v-1.3M321.6 2312.4v-1.3M676.3 2312.4v-5.7M449.7 2312.4v-1.5M625.5 2312.4v-6.9M792.2 2312.4v-1.4M287.6 2312.4v-3.0M757.1 2312.4v-1.4M763.6 2312.4v-1.4M499.8 2312.4v-1.6M722.6 2312.4v-1.4M247.5 2312.4v-1.7M489.8 2312.4v-7.4M382.9 2312.4v-5.0M677.8 2312.4v-1.5M303.6 2312.4v-2.5M452.2 2312.4v-1.7M632.7 2312.4v-1.4M410.0 2312.4v-8.8M303.9 2312.4v-8.6M695.8 2312.4v-8.1M391.8 2312.4v-6.9M236.5 2312.4v-2.9M1370.1 2312.4v-4.1M1320.0 2312.4v-1.7M1407.2 2312.4v-3.1M1058.3 2312.4v-1.4M1069.2 2312.4v-4.8M989.6 2312.4v-1.3M1280.9 2312.4v-1.4M1062.8 2312.4v-1.4M897.9 2312.4v-1.3M1356.0 2312.4v-1.3M1166.8 2312.4v-4.1M1346.1 2312.4v-2.6M1258.9 2312.4v-3.0M1125.6 2312.4v-3.6M1346.2 2312.4v-4.2M1323.9 2312.4v-1.8M1066.6 2312.4v-5.3" stroke="#666" stroke-width="0.8" fill="none"/>
<path d="M340.1 2312.4v-2.6M605.3 2312.4v-2.0M620.7 2312.4v-1.4M236.3 2312.4v-7.6M341.6 2312.4v-10.9M356.3 2312.4v-1.5M244.7 2312.4v-1.8M325.4 2312.4v-3.7M746.3 2312.4v-2.5M307.3 2312.4v-2.4M789.0 2312.4v-4.1M723.0 2312.4v-3.2M455.1 2312.4v-5.2M494.2 2312.4v-2.3M316.8 2312.4v-3.6M732.5 2312.4v-1.9M640.0 2312.4v-7.1M557.8 2312.4v-1.6M540.4 2312.4v-9.6M448.5 2312.4v-3.1M501.4 2312.4v-11.0M551.1 2312.4v-6.9M596.3 2312.4v-2.7M380.7 2312.4v-4.3M353.4 2312.4v-7.3M251.7 2312.4v-10.2M753.4 2312.4v-2.9M417.7 2312.4v-1.8M517.3 2312.4v-2.5M249.1 2312.4v-3.8M583.3 2312.4v-2.8M596.1 2312.4v-2.8M257.1 2312.4v-3.0M557.3 2312.4v-1.4M292.9 2312.4v-8.1M426.5 2312.4v-4.1M338.6 2312.4v-1.3M546.2 2312.4v-2.6M692.6 2312.4v-1.3M783.1 2312.4v-7.4M251.1 2312.4v-5.8M576.4 2312.4v-1.3M314.8 2312.4v-2.0M391.0 2312.4v-3.5M587.6 2312.4v-1.3M688.5 2312.4v-2.2M322.6 2312.4v-7.0M280.3 2312.4v-1.3M410.9 2312.4v-8.7M417.9 2312.4v-2.2M360.8 2312.4v-10.1M249.6 2312.4v-4.3M454.6 2312.4v-1.4M564.2 2312.4v-1.6M374.4 2312.4v-1.4M589.5 2312.4v-9.5M751.6 2312.4v-1.7M688.0 2312.4v-1.9M685.4 2312.4v-4.9M317.6 2312.4v-8.6M309.9 2312.4v-5.3M282.5 2312.4v-1.5M282.7 2312.4v-5.4M353.5 2312.4v-2.9M414.3 2312.4v-2.0M421.8 2312.4v-9.5M508.3 2312.4v-8.9M789.8 2312.4v-6.1M680.7 2312.4v-6.8M638.4 2312.4v-1.5M581.2 2312.4v-2.6M638.4 2312.4v-10.7M370.6 2312.4v-3.1M316.6 2312.4v-1.9M501.0 2312.4v-2.0M746.6 2312.4v-2.7M416.9 2312.4v-1.3M743.7 2312.4v-5.1M417.6 2312.4v-6.1M361.1 2312.4v-5.4M305.2 2312.4v-1.3M682.9 2312.4v-1.3M743.2 2312.4v-1.3M681.8 2312.4v-1.8M497.0 2312.4v-1.3M374.7 2312.4v-1.5M527.4 2312.4v-2.6M655.8 2312.4v-2.8M675.7 2312.4v-1.4M382.5 2312.4v-2.9M572.6 2312.4v-4.9M747.7 2312.4v-3.1M562.8 2312.4v-5.0M628.3 2312.4v-6.7M308.4 2312.4v-5.5M279.1 2312.4v-1.3M365.6 2312.4v-1.5M651.9 2312.4v-3.1M506.8 2312.4v-1.9M419.4 2312.4v-5.8M613.4 2312.4v-1.6M412.1 2312.4v-2.1M627.4 2312.4v-2.7M293.9 2312.4v-1.8M505.8 2312.4v-1.5M389.4 2312.4v-1.8M671.1 2312.4v-3.7M381.6 2312.4v-1.4M238.0 2312.4v-2.9M1091.9 2312.4v-3.3M1470.0 2312.4v-1.3M1133.4 2312.4v-1.4M1354.3 2312.4v-2.0M1592.0 2312.4v-4.2M1089.5 2312.4v-4.6M899.5 2312.4v-1.4M1389.8 2312.4v-1.4M1483.6 2312.4v-4.3M952.7 2312.4v-1.6M1327.3 2312.4v-1.7M1591.7 2312.4v-1.3M1159.4 2312.4v-5.3M1088.8 2312.4v-4.0M1070.0 2312.4v-1.6M1162.1 2312.4v-1.3M1148.1 2312.4v-3.1M1099.5 2312.4v-1.3M1008.8 2312.4v-2.2M1272.5 2312.4v-1.4M1595.8 2312.4v-1.8M907.1 2312.4v-1.6M1056.1 2312.4v-1.4M1226.3 2312.4v-1.5M1552.7 2312.4v-1.9M1162.3 2312.4v-5.2M1099.5 2312.4v-3.3M1408.8 2312.4v-1.4" stroke="#aaa" stroke-width="0.8" fill="none"/>
<text transform="translate(357.89 1418.1) scale(0.9667 1)" font-size="24.6">272.2222</text>
<text transform="translate(255.69 1765.7) scale(0.9637 1)" font-size="24.6">229.1437</text>
<text transform="translate(930.11 1902.2) scale(0.9635 1)" font-size="24.6">496.3398</text>
<text transform="translate(710.81 2082.3) scale(0.9625 1)" font-size="24.6">427.2667</text>
<text transform="translate(1524.78 2020.4) scale(0.9673 1)" font-size="24.6">791.3300</text>
<text transform="translate(1511.48 2048.2) scale(1.0529 1)" font-size="24.6">C<tspan dy="2.71" font-size="18.2">36</tspan><tspan dy="-2.71"> H</tspan><tspan dy="2.71" font-size="18.2">55</tspan><tspan dy="-2.71"> O</tspan><tspan dy="2.71" font-size="18.2">19</tspan></text>
<text transform="translate(1520.32 2078.6) scale(0.9714 1)" font-size="24.6">-3.25 mmu</text>
<line x1="1567.5" y1="2086.3" x2="1586.5" y2="2281.3" stroke="#222" stroke-width="1.0"/>
<rect x="469.1" y="2291.6" width="13.2" height="26.6" fill="none" stroke="#000" stroke-width="2.4"/>
<line x1="487.2" y1="2286.6" x2="842.0" y2="1811.6" stroke="#000" stroke-width="8"/>
<polygon points="851.9,1797.8 848.4,1822.0 839.6,1815.0 830.0,1808.8" fill="#000"/>
<rect x="873.3" y="1282.8" width="639.0" height="569.6" fill="#fff" stroke="#000" stroke-width="2.2"/>
<text transform="translate(899 1341) scale(1.0456 1)" font-size="55" font-weight="bold">(C)</text>
<text transform="translate(966.48 1797.8) scale(1.1000 1)" font-size="19">0</text>
<text transform="translate(955.45 1756.55) scale(1.1000 1)" font-size="19">10</text>
<text transform="translate(955.45 1715.3) scale(1.1000 1)" font-size="19">20</text>
<text transform="translate(955.45 1674.05) scale(1.1000 1)" font-size="19">30</text>
<text transform="translate(955.45 1632.8) scale(1.1000 1)" font-size="19">40</text>
<text transform="translate(955.45 1591.55) scale(1.1000 1)" font-size="19">50</text>
<text transform="translate(955.45 1550.3) scale(1.1000 1)" font-size="19">60</text>
<text transform="translate(955.45 1509.05) scale(1.1000 1)" font-size="19">70</text>
<text transform="translate(955.45 1467.8) scale(1.1000 1)" font-size="19">80</text>
<text transform="translate(955.45 1426.55) scale(1.1000 1)" font-size="19">90</text>
<text transform="translate(946.6 1385.3) scale(1.1000 1)" font-size="19">100</text>
<path d="M984.4 1787.5L992.3 1787.5M984.4 1746.25L992.3 1746.25M984.4 1705L992.3 1705M984.4 1663.75L992.3 1663.75M984.4 1622.5L992.3 1622.5M984.4 1581.25L992.3 1581.25M984.4 1540L992.3 1540M984.4 1498.75L992.3 1498.75M984.4 1457.5L992.3 1457.5M984.4 1416.25L992.3 1416.25M984.4 1375L992.3 1375" fill="none" stroke="#000" stroke-width="1.1"/>
<path d="M986.6 1779.25L992.3 1779.25M986.6 1771L992.3 1771M986.6 1762.75L992.3 1762.75M986.6 1754.5L992.3 1754.5M986.6 1738L992.3 1738M986.6 1729.75L992.3 1729.75M986.6 1721.5L992.3 1721.5M986.6 1713.25L992.3 1713.25M986.6 1696.75L992.3 1696.75M986.6 1688.5L992.3 1688.5M986.6 1680.25L992.3 1680.25M986.6 1672L992.3 1672M986.6 1655.5L992.3 1655.5M986.6 1647.25L992.3 1647.25M986.6 1639L992.3 1639M986.6 1630.75L992.3 1630.75M986.6 1614.25L992.3 1614.25M986.6 1606L992.3 1606M986.6 1597.75L992.3 1597.75M986.6 1589.5L992.3 1589.5M986.6 1573L992.3 1573M986.6 1564.75L992.3 1564.75M986.6 1556.5L992.3 1556.5M986.6 1548.25L992.3 1548.25M986.6 1531.75L992.3 1531.75M986.6 1523.5L992.3 1523.5M986.6 1515.25L992.3 1515.25M986.6 1507L992.3 1507M986.6 1490.5L992.3 1490.5M986.6 1482.25L992.3 1482.25M986.6 1474L992.3 1474M986.6 1465.75L992.3 1465.75M986.6 1449.25L992.3 1449.25M986.6 1441L992.3 1441M986.6 1432.75L992.3 1432.75M986.6 1424.5L992.3 1424.5M986.6 1408L992.3 1408M986.6 1399.75L992.3 1399.75M986.6 1391.5L992.3 1391.5M986.6 1383.25L992.3 1383.25" fill="none" stroke="#444" stroke-width="1.0"/>
<line x1="992.3" y1="1374.5" x2="992.3" y2="1788" stroke="#000" stroke-width="1.2"/>
<line x1="992.3" y1="1787.5" x2="1260" y2="1787.5" stroke="#000" stroke-width="1.1"/>
<line x1="1260" y1="1787.9" x2="1465.7" y2="1787.9" stroke="#000" stroke-width="1.8"/>
<text transform="translate(982.13 1817) scale(1.0317 1)" font-size="19">305.08</text>
<text transform="translate(1073.25 1817) scale(1.0272 1)" font-size="19">305.10</text>
<text transform="translate(1164.37 1817) scale(1.0317 1)" font-size="19">305.12</text>
<text transform="translate(1255.49 1817) scale(1.0272 1)" font-size="19">305.14</text>
<text transform="translate(1346.61 1817) scale(1.0317 1)" font-size="19">305.16</text>
<text transform="translate(1437.73 1817) scale(1.0317 1)" font-size="19">305.18</text>
<path d="M1009.8 1787.5L1009.8 1798M1032.58 1787.5L1032.58 1795M1055.36 1787.5L1055.36 1795M1078.14 1787.5L1078.14 1795M1100.92 1787.5L1100.92 1798M1123.7 1787.5L1123.7 1795M1146.48 1787.5L1146.48 1795M1169.26 1787.5L1169.26 1795M1192.04 1787.5L1192.04 1798M1214.82 1787.5L1214.82 1795M1237.6 1787.5L1237.6 1795M1260.38 1787.5L1260.38 1795M1283.16 1787.5L1283.16 1798M1305.94 1787.5L1305.94 1795M1328.72 1787.5L1328.72 1795M1351.5 1787.5L1351.5 1795M1374.28 1787.5L1374.28 1798M1397.06 1787.5L1397.06 1795M1419.84 1787.5L1419.84 1795M1442.62 1787.5L1442.62 1795M1465.4 1787.5L1465.4 1798" fill="none" stroke="#333" stroke-width="1.0"/>
<text transform="translate(1212.94 1845.2) scale(1.0780 1)" font-size="26.6">m/z</text>
<text transform="translate(925.8 1747.61) rotate(-90) scale(1.0071 1)" font-size="31.6">Relative Abundance (%)</text>
<polyline points="1097.1,1787.5 1108.9,1453.4 1113.4,1469.9 1125.7,1787.5" fill="none" stroke="#c4c4c4" stroke-width="1.0"/>
<polyline points="1097.1,1787.5 1108.9,1453.4 1113.4,1469.9 1125.7,1787.5" fill="none" stroke="#111" stroke-width="1.0" stroke-dasharray="70 26" stroke-dashoffset="10"/>
<polyline points="1250.9,1787.5 1264.4,1384.9 1266.3,1399.8 1276.6,1787.5" fill="none" stroke="#c4c4c4" stroke-width="1.0"/>
<polyline points="1250.9,1787.5 1264.4,1384.9 1266.3,1399.8 1276.6,1787.5" fill="none" stroke="#111" stroke-width="1.0" stroke-dasharray="22 30" stroke-dashoffset="40"/>
<polyline points="1349.4,1787.5 1361.3,1375.0 1374.6,1787.5" fill="none" stroke="#c4c4c4" stroke-width="1.0"/>
<polyline points="1349.4,1787.5 1361.3,1375.0 1374.6,1787.5" fill="none" stroke="#111" stroke-width="1.0" stroke-dasharray="95 24" stroke-dashoffset="0"/>
<text transform="translate(1072.63 1444.7) scale(1.0347 1)" font-size="19">305.1022</text>
<text transform="translate(1207.13 1330.4) scale(1.0257 1)" font-size="19">305.1361</text>
<text transform="translate(1204.14 1354.2) scale(1.0605 1)" font-size="19">C<tspan dy="0" font-size="14.82">17</tspan>H<tspan dy="0" font-size="14.82">21</tspan>O<tspan dy="0" font-size="14.82">5</tspan></text>
<text transform="translate(1201.11 1379.9) scale(1.0523 1)" font-size="19">-2.21 mmu</text>
<text transform="translate(1328.74 1360) scale(1.0250 1)" font-size="19">305.1575</text>
</svg>
</body>
</html>
